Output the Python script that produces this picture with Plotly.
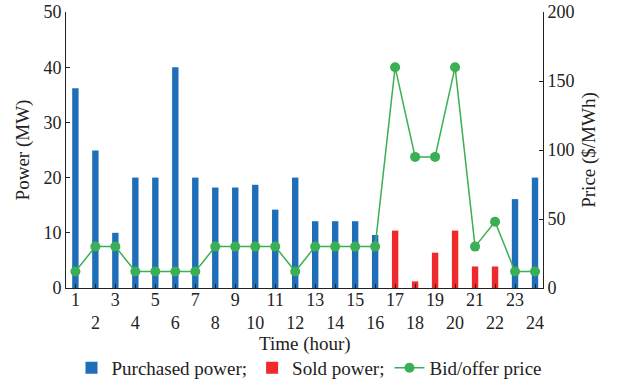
import plotly.graph_objects as go

hours = list(range(1, 25))
purchased = [36.2, 24.9, 10.0, 20, 20, 40, 20, 18.2, 18.2, 18.7, 14.2, 20,
             12.1, 12.1, 12.1, 9.6, None, None, None, None, None, None, 16.1, 20]
sold = [None]*16 + [10.4, 1.2, 6.4, 10.4, 3.9, 3.9, None, None]
price = [12, 30, 30, 12, 12, 12, 12, 30, 30, 30, 30, 12,
         30, 30, 30, 30, 160, 95, 95, 160, 30, 48, 12, 12]
tick_text = [str(h) if h % 2 == 1 else "<br>" + str(h) for h in hours]

font = "Liberation Serif"
blue = "#1F6EB8"
red = "#EE2A2A"
green = "#3BAF55"
tf = dict(family=font, size=18, color="#222")

fig = go.Figure()
fig.add_trace(go.Bar(x=hours, y=purchased, name="Purchased power;", marker_color=blue,
                     width=0.32, marker_line_width=0))
fig.add_trace(go.Bar(x=hours, y=sold, name="Sold power;", marker_color=red,
                     width=0.32, marker_line_width=0))
fig.add_trace(go.Scatter(x=hours, y=price, name="Bid/offer price", yaxis="y2",
                         mode="lines+markers", line=dict(color=green, width=1.5),
                         marker=dict(color=green, size=10)))

fig.update_layout(
    width=618, height=388, barmode="overlay",
    margin=dict(l=66, r=75, t=12, b=100, autoexpand=False),
    plot_bgcolor="white", paper_bgcolor="white",
    font=dict(family=font, size=18, color="#222"),
    xaxis=dict(range=[0.53, 24.4], tickvals=hours, ticktext=tick_text, tickfont=tf,
               ticks="inside", ticklen=4, tickcolor="#222", showline=True,
               linecolor="#222", linewidth=1, showgrid=False, zeroline=False,
               ticklabelstandoff=-5, tickangle=0),
    yaxis=dict(range=[0, 50], dtick=10, ticks="inside", ticklen=4, tickcolor="#222",
               tickfont=tf, showline=True, linecolor="#222", linewidth=1, showgrid=False,
               zeroline=False, title=dict(text="Power (MW)", standoff=8,
                                          font=dict(family=font, size=19))),
    yaxis2=dict(range=[0, 200], dtick=50, overlaying="y", side="right", ticks="inside",
                ticklen=4, tickcolor="#222", tickfont=tf, showline=True, linecolor="#222",
                linewidth=1, showgrid=False, zeroline=False,
                title=dict(text="Price ($/MWh)", standoff=8,
                           font=dict(family=font, size=19))),
    legend=dict(orientation="h", x=0.5, xanchor="center", xref="container",
                y=0.052, yanchor="middle", yref="container",
                font=dict(family=font, size=19), itemwidth=30, tracegroupgap=0),
    annotations=[dict(text="Time (hour)", xref="paper", yref="paper", x=0.5, y=-0.203,
                      xanchor="center", yanchor="middle", showarrow=False,
                      font=dict(family=font, size=19))],
    showlegend=True,
)
fig.write_html("out.html")
